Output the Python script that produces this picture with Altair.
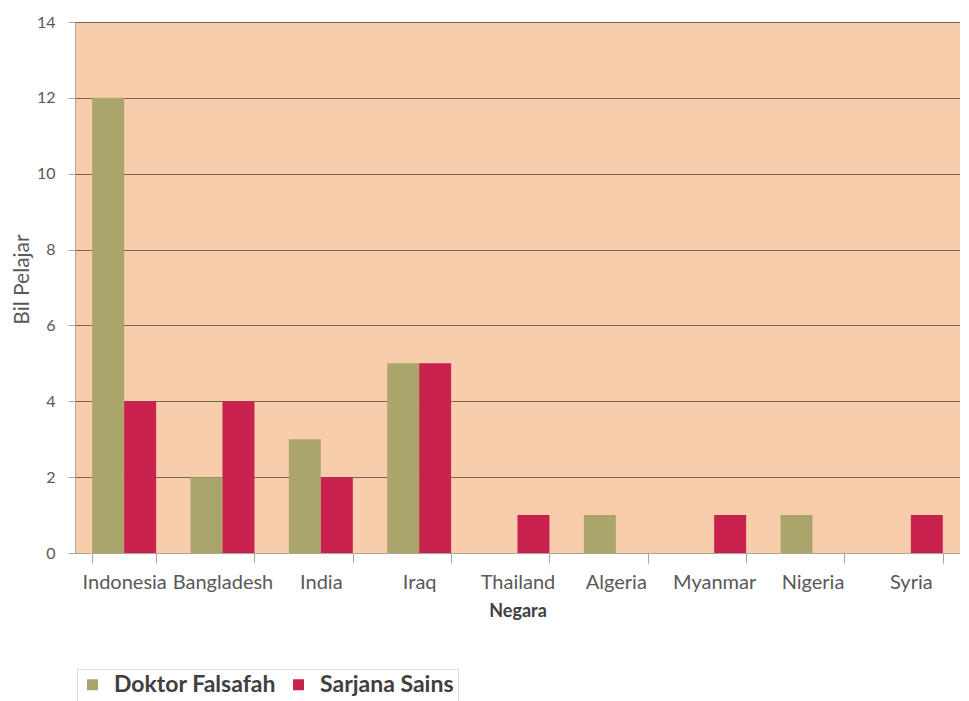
import altair as alt
import pandas as pd

countries = ["Indonesia", "Bangladesh", "India", "Iraq", "Thailand", "Algeria", "Myanmar", "Nigeria", "Syria"]
series = ["Doktor Falsafah", "Sarjana Sains"]
doktor = [12, 2, 3, 5, 0, 1, 0, 1, 0]
sarjana = [4, 4, 2, 5, 1, 0, 1, 0, 1]
y_ticks = [0, 2, 4, 6, 8, 10, 12, 14]

rows = []
for c, d, s in zip(countries, doktor, sarjana):
    rows.append({"Negara": c, "Siri": series[0], "Bil": d})
    rows.append({"Negara": c, "Siri": series[1], "Bil": s})
df = pd.DataFrame(rows)

FONT = "Lato"

chart = alt.Chart(df).mark_bar().encode(
    x=alt.X("Negara:N", sort=countries,
            scale=alt.Scale(paddingInner=0.35, paddingOuter=0.175),
            axis=alt.Axis(title="Negara", labelAngle=0, tickBand="extent",
                          tickSize=10, labelPadding=9, labelFontSize=20,
                          labelColor="#595959", titleFontSize=18, titleFontWeight="bold",
                          titleColor="#404040", titlePadding=10,
                          domainColor="#A6A6A6", tickColor="#A6A6A6", grid=False)),
    xOffset=alt.XOffset("Siri:N", sort=series, scale=alt.Scale(paddingInner=0, paddingOuter=0)),
    y=alt.Y("Bil:Q", scale=alt.Scale(domain=[0, 14], nice=False),
            axis=alt.Axis(title="Bil Pelajar", values=y_ticks, tickSize=7, labelPadding=13,
                          labelFontSize=16, labelColor="#595959", titleFontSize=21,
                          titleFontWeight="normal", titleColor="#595959",
                          titleX=-53, titleY=257, titleAngle=-90, titleAlign="center",
                          titleBaseline="middle",
                          domainColor="#A6A6A6", tickColor="#A6A6A6",
                          grid=True, gridColor="#76665C", gridWidth=1)),
    color=alt.Color("Siri:N", sort=series,
                    scale=alt.Scale(domain=series, range=["#AAA66B", "#C8214D"]),
                    legend=alt.Legend(title=None, orient="none", direction="horizontal",
                                      legendX=2, legendY=647, symbolType="square",
                                      symbolSize=121, symbolStrokeWidth=0,
                                      labelFontSize=23, labelFontWeight="bold",
                                      labelColor="#404040", labelOffset=10,
                                      labelLimit=400,
                                      columnPadding=11, padding=4,
                                      strokeColor="#DDDDDD")),
).properties(
    width=885, height=531,
    padding={"left": 67, "top": 14, "right": 0, "bottom": 148},
    autosize=alt.AutoSizeParams(type="none"),
).configure(font=FONT).configure_view(fill="#F8CDAB", stroke="transparent")

chart.save("out.html", embed_options={"renderer": "svg", "actions": False})
